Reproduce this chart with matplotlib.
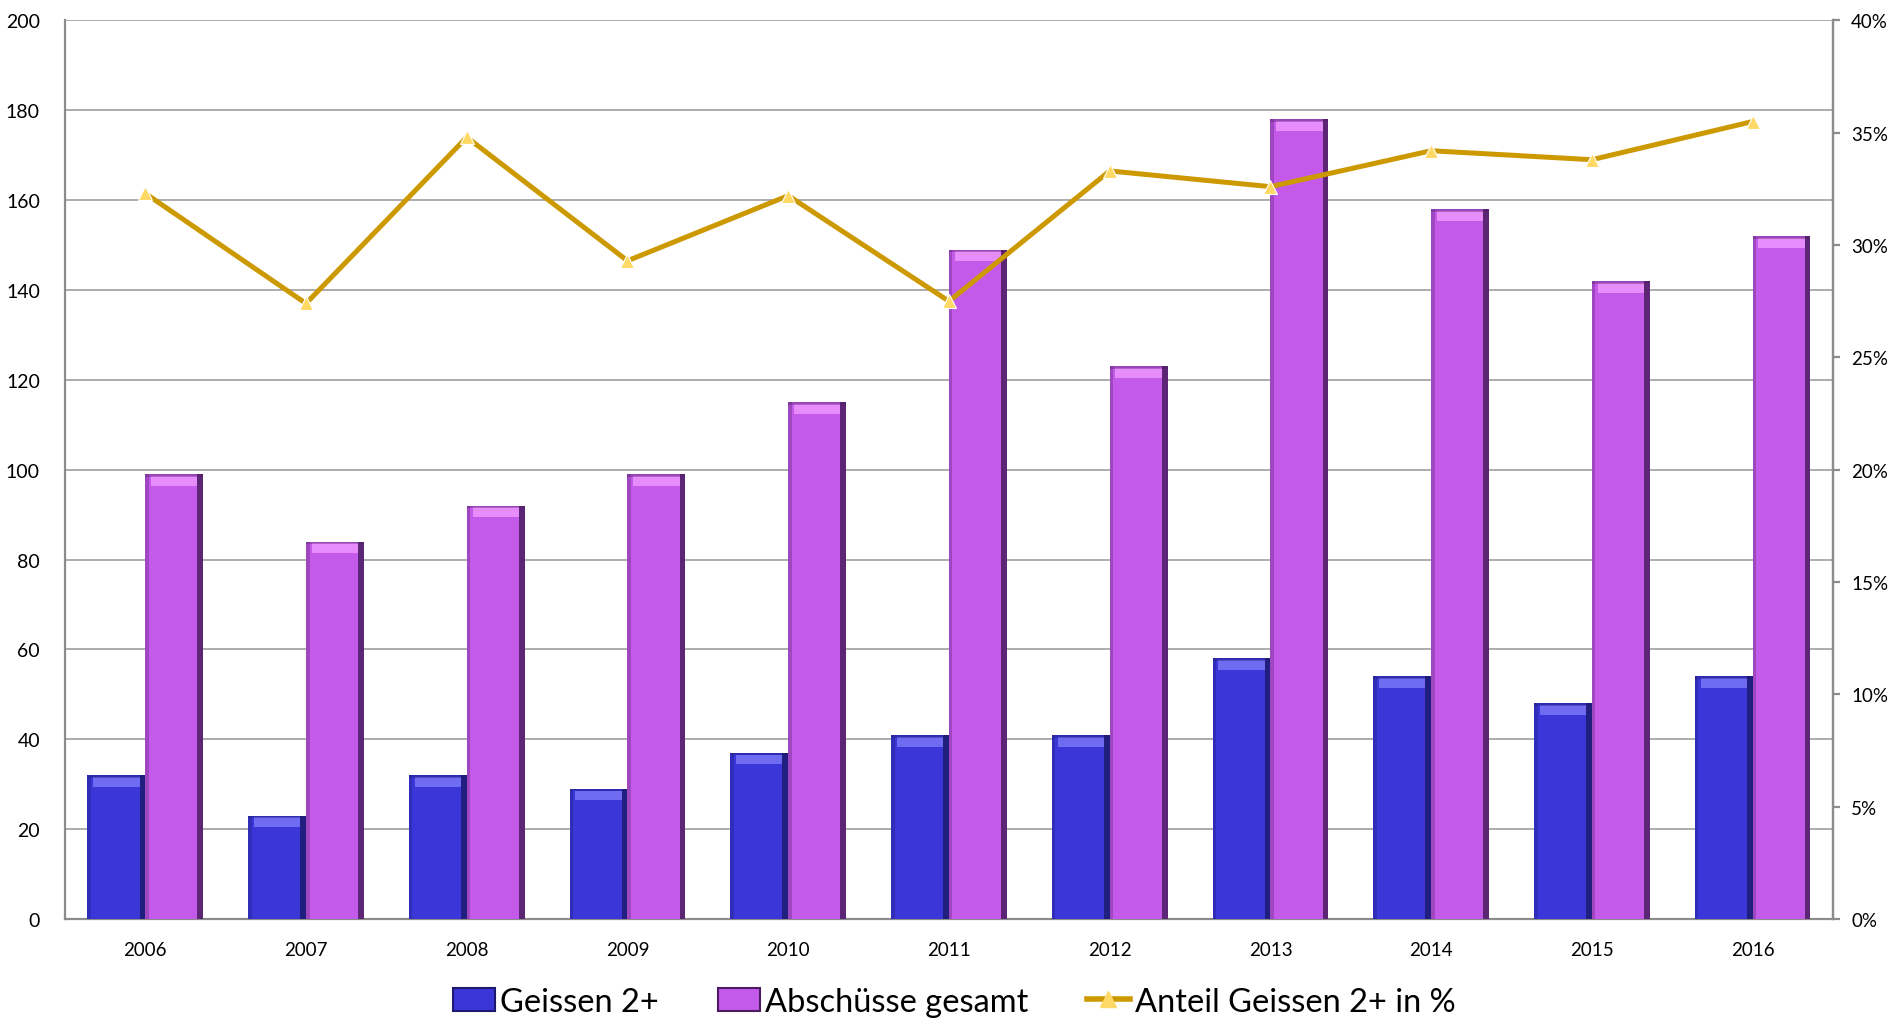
import numpy as np
import matplotlib.pyplot as plt
from matplotlib.patches import Patch
from matplotlib.lines import Line2D
from matplotlib.ticker import PercentFormatter

plt.rcParams['font.family'] = ['Lato', 'DejaVu Sans']

years = ["2006", "2007", "2008", "2009", "2010", "2011", "2012", "2013", "2014", "2015", "2016"]
geissen = [32, 23, 32, 29, 37, 41, 41, 58, 54, 48, 54]
gesamt = [99, 84, 92, 99, 115, 149, 123, 178, 158, 142, 152]
anteil = [32.3, 27.4, 34.8, 29.3, 32.2, 27.5, 33.3, 32.6, 34.2, 33.8, 35.5]

blue = "#3a36d8"
blue_dark = "#1c1a6e"
blue_light = "#6f6cf2"
purple = "#c45ae9"
purple_dark = "#4b1c62"
purple_light = "#e68cfb"
gold = "#cc9900"
grid_col = "#a6a6a6"
axis_col = "#8c8c8c"

fig = plt.figure(figsize=(18.93, 10.20), dpi=100)
ax = fig.add_axes([0.0343, 0.098, 0.934, 0.881])

x = np.arange(len(years))
w = 0.36


def bevel_bars(xpos, vals, face, dark, light):
    vals = np.array(vals, dtype=float)
    ax.bar(xpos, vals, width=w, color=face, zorder=3, linewidth=0)
    # dark strip on the right side
    ax.bar(xpos + w * 0.45, vals, width=w * 0.10, color=dark, alpha=0.85, zorder=4, linewidth=0)
    # faint strip on the left side
    ax.bar(xpos - w * 0.47, vals, width=w * 0.06, color=dark, alpha=0.3, zorder=4, linewidth=0)
    # light bevel on top
    ax.bar(xpos, np.full(len(vals), 2.2), bottom=vals - 2.6, width=w * 0.8,
           color=light, zorder=4, linewidth=0)
    ax.bar(xpos, np.full(len(vals), 0.6), bottom=vals - 0.6, width=w, color=dark,
           alpha=0.35, zorder=4, linewidth=0)


bevel_bars(x - w / 2, geissen, blue, blue_dark, blue_light)
bevel_bars(x + w / 2, gesamt, purple, purple_dark, purple_light)

ax.set_xlim(-0.5, len(years) - 0.5)
ax.set_ylim(0, 200)
ax.set_yticks(np.arange(0, 201, 20))
ax.set_xticks(x)
ax.set_xticklabels(years)
ax.grid(axis="y", color=grid_col, linewidth=1.3, zorder=0)
ax.set_axisbelow(True)
ax.tick_params(axis="y", length=0, pad=18, labelsize=14)
ax.tick_params(axis="x", length=0, pad=16, labelsize=13.5)
for side in ["left", "bottom", "right"]:
    ax.spines[side].set_color(axis_col)
    ax.spines[side].set_linewidth(1.6)
ax.spines["top"].set_visible(False)

ax2 = ax.twinx()
ax2.plot(x, np.array(anteil) / 100, color=gold, linewidth=3.6, zorder=5,
         marker="^", markersize=10, markerfacecolor="#ffd966",
         markeredgecolor="white", markeredgewidth=0.8)
ax2.set_ylim(0, 0.4)
ax2.set_yticks(np.arange(0, 0.41, 0.05))
ax2.yaxis.set_major_formatter(PercentFormatter(1.0, decimals=0))
ax2.tick_params(axis="y", length=5, width=1.6, color=axis_col, pad=8, labelsize=13.5)
for side in ["left", "bottom", "top"]:
    ax2.spines[side].set_visible(False)
ax2.spines["right"].set_color(axis_col)
ax2.spines["right"].set_linewidth(1.6)

handles = [
    Patch(facecolor=blue, edgecolor=blue_dark, linewidth=1.5),
    Patch(facecolor=purple, edgecolor=purple_dark, linewidth=1.5),
    Line2D([0], [0], color=gold, linewidth=4, marker="^", markersize=12,
           markerfacecolor="#ffd966", markeredgecolor="#ffd966"),
]
labels = ["Geissen 2+", "Abschüsse gesamt", "Anteil Geissen 2+ in %"]
fig.legend(handles, labels, loc="center", bbox_to_anchor=(0.504, 0.017), ncol=3,
           frameon=False, fontsize=23.5, handlelength=1.3, handleheight=0.7,
           handletextpad=0.15, columnspacing=1.8)

fig.savefig("out.png", dpi=100)
